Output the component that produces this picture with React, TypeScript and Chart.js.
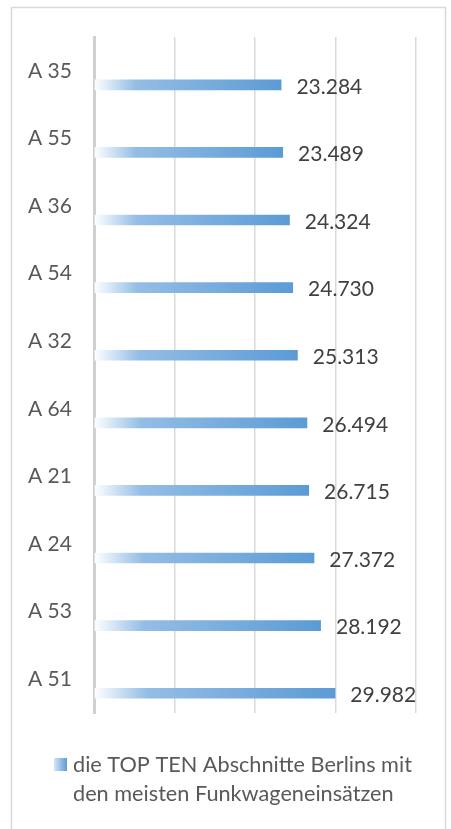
import { useEffect, useRef } from 'react';
import { Chart, registerables } from 'chart.js';

Chart.register(...registerables);

const categories = ['A 35', 'A 55', 'A 36', 'A 54', 'A 32', 'A 64', 'A 21', 'A 24', 'A 53', 'A 51'];
const values = [23284, 23489, 24324, 24730, 25313, 26494, 26715, 27372, 28192, 29982];
const xTicks = [0, 10000, 20000, 30000, 40000];
const legendLines = ['die TOP TEN Abschnitte Berlins mit', 'den meisten Funkwageneinsätzen'];

const FONT = 'Lato';
const TEXT = '#595959';
const GRID = '#d9d9d9';
const BLUE = '#5b9bd5';

function fmt(v: number): string {
  return String(v).replace(/\B(?=(\d{3})+(?!\d))/g, '.');
}

const decorPlugin = {
  id: 'decor',
  beforeDraw(chart: any) {
    const ctx = chart.ctx;
    ctx.save();
    ctx.fillStyle = '#ffffff';
    ctx.fillRect(0, 0, chart.width, chart.height);
    ctx.strokeStyle = GRID;
    ctx.lineWidth = 1.5;
    ctx.strokeRect(11.5, 7.5, 434, chart.height + 20);
    ctx.restore();
  },
  afterDatasetsDraw(chart: any) {
    const ctx = chart.ctx;
    const meta = chart.getDatasetMeta(1);
    ctx.save();
    ctx.font = `21px ${FONT}`;
    ctx.fillStyle = '#404040';
    ctx.textAlign = 'left';
    ctx.textBaseline = 'middle';
    meta.data.forEach((bar: any, i: number) => {
      ctx.fillText(fmt(values[i]), bar.x + 15, bar.y + 2);
    });
    // legend
    const sx = 54, sy = 758, ss = 13;
    const g = ctx.createLinearGradient(sx, 0, sx + ss, 0);
    g.addColorStop(0, '#d6e6f5');
    g.addColorStop(1, BLUE);
    ctx.fillStyle = g;
    ctx.fillRect(sx, sy, ss, ss);
    ctx.fillStyle = TEXT;
    ctx.font = `21.7px ${FONT}`;
    ctx.fillText(legendLines[0], 73, 765);
    ctx.fillText(legendLines[1], 73, 794);
    ctx.restore();
  },
};

export default function App() {
  const ref = useRef<HTMLCanvasElement>(null);
  useEffect(() => {
    if (!ref.current) return;
    const chart = new Chart(ref.current, {
      type: 'bar',
      data: {
        labels: categories,
        datasets: [
          { label: 'leer', data: categories.map(() => null) as any },
          {
            label: legendLines.join(' '),
            data: values,
            backgroundColor: (c: any) => {
              const ch = c.chart;
              const xs = ch.scales && ch.scales.x;
              if (!xs || c.raw == null) return BLUE;
              const x0 = xs.getPixelForValue(0);
              const x1 = xs.getPixelForValue(c.raw as number);
              if (!isFinite(x0) || !isFinite(x1) || x1 <= x0) return BLUE;
              const g = ch.ctx.createLinearGradient(x0, 0, x1, 0);
              g.addColorStop(0, '#ffffff');
              g.addColorStop(0.22, '#94bde5');
              g.addColorStop(1, BLUE);
              return g;
            },
          },
        ],
      },
      options: {
        indexAxis: 'y',
        responsive: false,
        animation: false,
        categoryPercentage: 0.83,
        barPercentage: 0.38,
        layout: { padding: { left: 28, right: 35, top: 37, bottom: 116 } },
        plugins: { legend: { display: false }, tooltip: { enabled: false } },
        scales: {
          x: {
            min: xTicks[0],
            max: xTicks[xTicks.length - 1],
            afterBuildTicks: (s: any) => {
              s.ticks = xTicks.map((v) => ({ value: v }));
            },
            ticks: { display: false },
            grid: { color: GRID, lineWidth: 1.5, drawTicks: false },
            border: { display: false },
          },
          y: {
            ticks: {
              crossAlign: 'far',
              color: TEXT,
              font: { family: FONT, size: 21 },
              padding: 0,
            },
            afterFit: (s: any) => {
              s.width = 66;
            },
            grid: { display: false, drawTicks: false },
            border: { display: true, color: '#d0d0d0', width: 3 },
          },
        },
      },
      plugins: [decorPlugin],
    } as any);
    return () => chart.destroy();
  }, []);
  return (
    <div style={{ position: 'absolute', left: 0, top: 0, width: 451, height: 829 }}>
      <canvas ref={ref} width={451} height={829} style={{ display: 'block' }} />
    </div>
  );
}
